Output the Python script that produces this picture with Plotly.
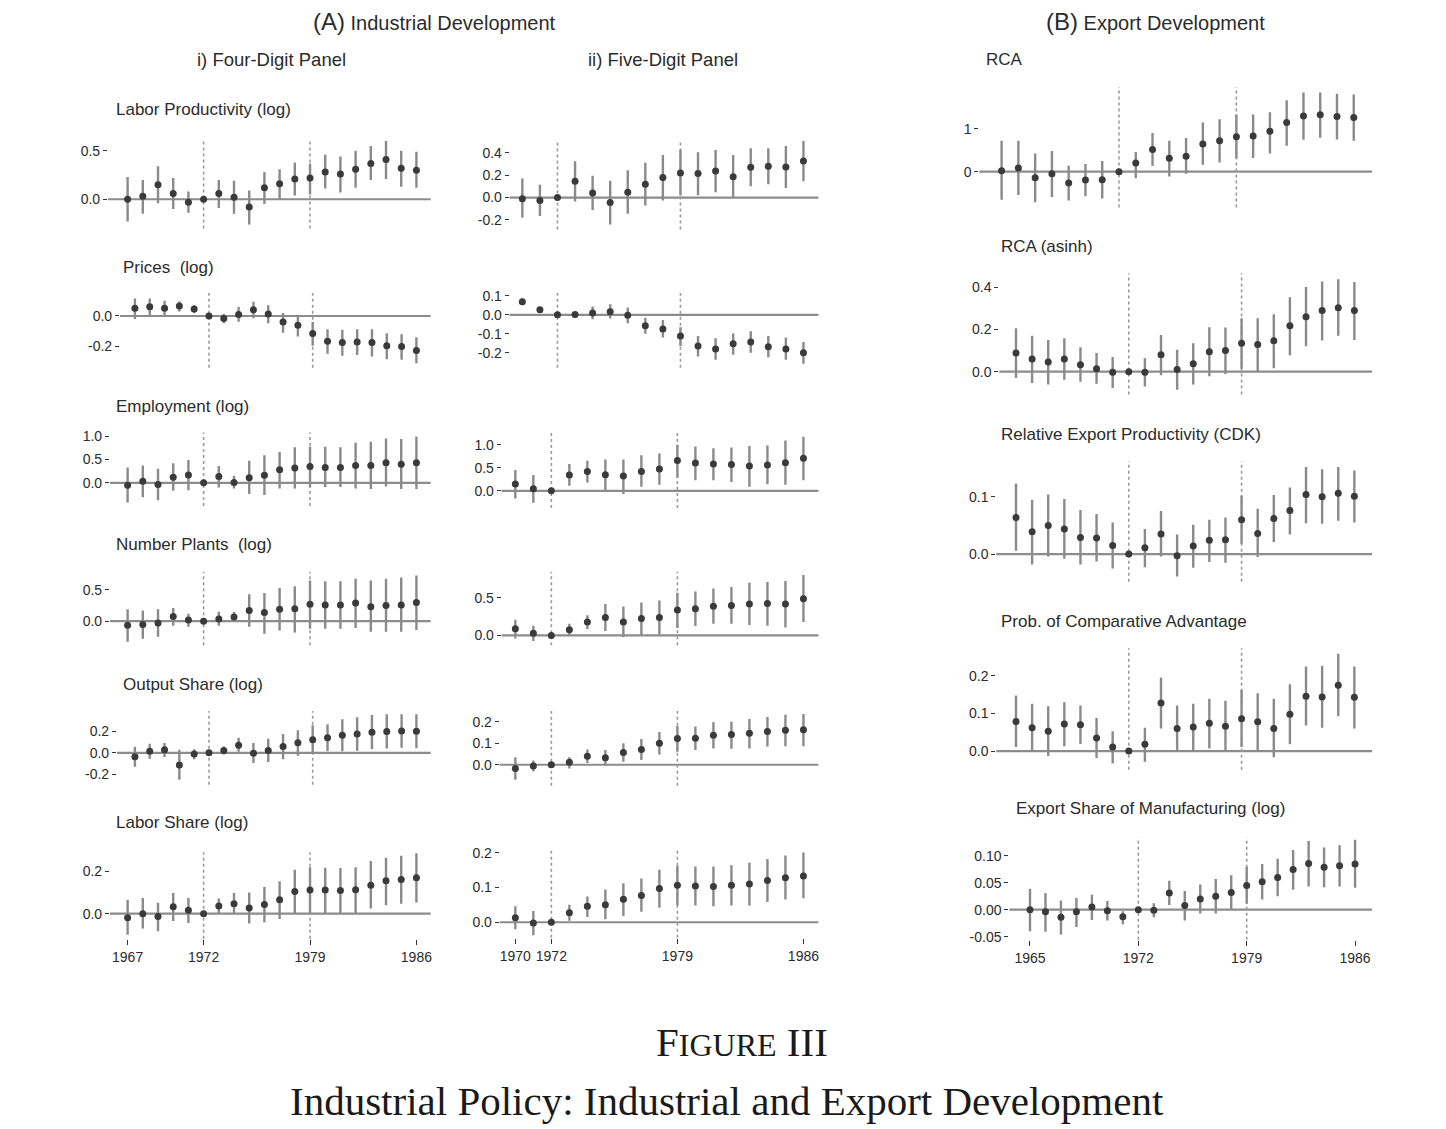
import plotly.graph_objects as go

W, H = 1446, 1129

# ---------------- data ----------------
years4 = [1967, 1968, 1969, 1970, 1971, 1972, 1973, 1974, 1975, 1976,
          1977, 1978, 1979, 1980, 1981, 1982, 1983, 1984, 1985, 1986]
years5 = [1970, 1971, 1972, 1973, 1974, 1975, 1976, 1977, 1978, 1979,
          1980, 1981, 1982, 1983, 1984, 1985, 1986]
yearsE = [1965, 1966, 1967, 1968, 1969, 1970, 1971, 1972, 1973, 1974, 1975,
          1976, 1977, 1978, 1979, 1980, 1981, 1982, 1983, 1984, 1985, 1986]

# Four-digit panel
lp4_est = [0.00, 0.03, 0.15, 0.06, -0.03, 0.00, 0.06, 0.02, -0.08, 0.12, 0.16, 0.21, 0.22, 0.28, 0.26, 0.31, 0.37, 0.41, 0.32, 0.30]
lp4_lo = [-0.23, -0.15, -0.04, -0.10, -0.14, 0.00, -0.09, -0.15, -0.26, -0.05, 0.00, 0.04, 0.05, 0.11, 0.07, 0.12, 0.20, 0.21, 0.13, 0.12]
lp4_hi = [0.23, 0.20, 0.34, 0.22, 0.08, 0.00, 0.20, 0.19, 0.09, 0.28, 0.31, 0.38, 0.37, 0.46, 0.44, 0.50, 0.55, 0.60, 0.50, 0.49]

pr4_est = [0.05, 0.06, 0.05, 0.065, 0.045, 0.0, -0.017, 0.01, 0.04, 0.013, -0.04, -0.06, -0.115, -0.165, -0.174, -0.17, -0.174, -0.195, -0.2, -0.226]
pr4_lo = [-0.02, 0.005, 0.005, 0.03, 0.02, 0.0, -0.048, -0.037, -0.015, -0.048, -0.11, -0.135, -0.195, -0.248, -0.26, -0.255, -0.265, -0.283, -0.287, -0.31]
pr4_hi = [0.115, 0.115, 0.10, 0.095, 0.07, 0.0, 0.013, 0.06, 0.093, 0.07, 0.02, 0.006, -0.04, -0.087, -0.09, -0.087, -0.087, -0.113, -0.12, -0.14]

em4_est = [-0.05, 0.035, -0.035, 0.12, 0.17, 0.0, 0.135, 0.007, 0.11, 0.16, 0.28, 0.32, 0.35, 0.33, 0.33, 0.37, 0.37, 0.43, 0.40, 0.43]
em4_lo = [-0.42, -0.31, -0.37, -0.17, -0.16, 0.0, -0.10, -0.12, -0.24, -0.26, -0.12, -0.12, -0.09, -0.09, -0.09, -0.12, -0.13, -0.08, -0.13, -0.13]
em4_hi = [0.33, 0.37, 0.30, 0.42, 0.49, 0.0, 0.36, 0.15, 0.47, 0.59, 0.66, 0.76, 0.77, 0.77, 0.76, 0.86, 0.88, 0.95, 0.94, 0.99]

np4_est = [-0.065, -0.055, -0.03, 0.075, 0.02, 0.0, 0.035, 0.065, 0.17, 0.14, 0.19, 0.20, 0.27, 0.26, 0.26, 0.29, 0.23, 0.25, 0.26, 0.30]
np4_lo = [-0.33, -0.28, -0.25, -0.075, -0.09, 0.0, -0.075, -0.01, -0.09, -0.20, -0.15, -0.18, -0.12, -0.12, -0.12, -0.11, -0.17, -0.17, -0.17, -0.14]
np4_hi = [0.19, 0.17, 0.19, 0.21, 0.12, 0.0, 0.15, 0.15, 0.43, 0.45, 0.53, 0.56, 0.65, 0.64, 0.64, 0.68, 0.65, 0.68, 0.70, 0.73]

os4_est = [-0.037, 0.015, 0.028, -0.114, -0.012, 0.0, 0.022, 0.07, -0.003, 0.022, 0.058, 0.092, 0.12, 0.14, 0.163, 0.175, 0.19, 0.197, 0.203, 0.20]
os4_lo = [-0.13, -0.055, -0.04, -0.25, -0.06, 0.0, -0.015, 0.01, -0.095, -0.085, -0.06, -0.028, -0.01, 0.015, 0.015, 0.018, 0.034, 0.04, 0.046, 0.043]
os4_hi = [0.055, 0.085, 0.09, 0.028, 0.034, 0.0, 0.058, 0.14, 0.09, 0.13, 0.175, 0.21, 0.255, 0.265, 0.31, 0.33, 0.35, 0.357, 0.357, 0.357]

ls4_est = [-0.019, 0.0, -0.013, 0.033, 0.016, 0.0, 0.036, 0.047, 0.027, 0.044, 0.066, 0.105, 0.112, 0.112, 0.11, 0.113, 0.135, 0.156, 0.162, 0.17]
ls4_lo = [-0.10, -0.07, -0.083, -0.035, -0.044, 0.0, 0.0, 0.0, -0.047, -0.04, -0.025, 0.0, 0.0, 0.003, 0.0, 0.003, 0.025, 0.04, 0.047, 0.053]
ls4_hi = [0.066, 0.075, 0.052, 0.098, 0.075, 0.0, 0.072, 0.098, 0.10, 0.126, 0.154, 0.208, 0.22, 0.218, 0.217, 0.22, 0.25, 0.265, 0.275, 0.287]

# Five-digit panel
lp5_est = [-0.01, -0.027, 0.0, 0.145, 0.04, -0.045, 0.048, 0.12, 0.18, 0.22, 0.215, 0.237, 0.187, 0.27, 0.28, 0.273, 0.326]
lp5_lo = [-0.18, -0.165, 0.0, -0.035, -0.11, -0.24, -0.145, -0.07, -0.027, 0.018, 0.02, 0.047, 0.0, 0.1, 0.12, 0.086, 0.145]
lp5_hi = [0.17, 0.115, 0.0, 0.325, 0.195, 0.15, 0.245, 0.31, 0.38, 0.43, 0.405, 0.425, 0.38, 0.44, 0.44, 0.46, 0.51]

pr5_est = [0.068, 0.026, 0.0, 0.002, 0.009, 0.016, -0.003, -0.058, -0.075, -0.112, -0.164, -0.18, -0.153, -0.143, -0.168, -0.18, -0.2]
pr5_lo = [0.05, 0.016, 0.0, -0.007, -0.024, -0.02, -0.045, -0.1, -0.12, -0.164, -0.22, -0.237, -0.21, -0.2, -0.223, -0.237, -0.258]
pr5_hi = [0.085, 0.037, 0.0, 0.007, 0.044, 0.056, 0.038, -0.016, -0.028, -0.065, -0.112, -0.124, -0.098, -0.087, -0.112, -0.12, -0.143]

em5_est = [0.145, 0.045, 0.0, 0.345, 0.42, 0.35, 0.32, 0.42, 0.475, 0.655, 0.6, 0.58, 0.57, 0.54, 0.56, 0.61, 0.705]
em5_lo = [-0.165, -0.26, 0.0, 0.11, 0.18, 0.015, -0.07, 0.09, 0.13, 0.29, 0.23, 0.23, 0.19, 0.09, 0.14, 0.13, 0.23]
em5_hi = [0.45, 0.345, 0.0, 0.58, 0.65, 0.68, 0.68, 0.77, 0.81, 1.0, 0.96, 0.92, 0.94, 0.97, 0.98, 1.09, 1.17]

np5_est = [0.088, 0.027, 0.0, 0.075, 0.18, 0.24, 0.18, 0.225, 0.24, 0.34, 0.355, 0.39, 0.4, 0.42, 0.425, 0.42, 0.49]
np5_lo = [-0.04, -0.075, 0.0, 0.0, 0.085, 0.057, -0.02, 0.004, 0.013, 0.1, 0.124, 0.155, 0.155, 0.137, 0.128, 0.106, 0.177]
np5_hi = [0.21, 0.13, 0.0, 0.155, 0.27, 0.42, 0.385, 0.44, 0.465, 0.57, 0.585, 0.625, 0.645, 0.7, 0.71, 0.725, 0.805]

os5_est = [-0.017, -0.006, 0.0, 0.011, 0.04, 0.032, 0.057, 0.071, 0.1, 0.122, 0.123, 0.137, 0.14, 0.146, 0.154, 0.16, 0.162]
os5_lo = [-0.07, -0.03, 0.0, -0.017, 0.008, -0.005, 0.014, 0.022, 0.048, 0.06, 0.068, 0.075, 0.074, 0.075, 0.085, 0.086, 0.086]
os5_hi = [0.035, 0.02, 0.0, 0.035, 0.071, 0.068, 0.1, 0.12, 0.152, 0.18, 0.177, 0.197, 0.2, 0.212, 0.222, 0.232, 0.235]

ls5_est = [0.013, -0.002, 0.0, 0.027, 0.046, 0.05, 0.066, 0.077, 0.097, 0.106, 0.104, 0.103, 0.106, 0.11, 0.12, 0.128, 0.133]
ls5_lo = [-0.02, -0.037, 0.0, 0.004, 0.015, 0.009, 0.018, 0.03, 0.042, 0.049, 0.048, 0.046, 0.048, 0.048, 0.058, 0.065, 0.069]
ls5_hi = [0.046, 0.032, 0.0, 0.05, 0.074, 0.094, 0.112, 0.126, 0.151, 0.162, 0.16, 0.16, 0.164, 0.171, 0.182, 0.192, 0.2]

# Export development
rca_est = [0.023, 0.085, -0.14, -0.046, -0.26, -0.19, -0.185, 0.0, 0.2, 0.515, 0.31, 0.36, 0.645, 0.72, 0.81, 0.83, 0.94, 1.14, 1.29, 1.32, 1.28, 1.26]
rca_lo = [-0.65, -0.54, -0.71, -0.59, -0.67, -0.57, -0.62, 0.0, -0.15, 0.13, -0.11, -0.05, 0.16, 0.215, 0.31, 0.32, 0.42, 0.6, 0.74, 0.79, 0.75, 0.72]
rca_hi = [0.72, 0.72, 0.42, 0.48, 0.14, 0.18, 0.25, 0.0, 0.46, 0.9, 0.72, 0.78, 1.14, 1.22, 1.33, 1.33, 1.38, 1.66, 1.84, 1.84, 1.81, 1.79]

asinh_est = [0.088, 0.06, 0.046, 0.06, 0.033, 0.014, -0.003, 0.0, -0.003, 0.08, 0.01, 0.038, 0.094, 0.1, 0.135, 0.129, 0.146, 0.217, 0.26, 0.29, 0.303, 0.29]
asinh_lo = [-0.03, -0.053, -0.06, -0.038, -0.047, -0.057, -0.077, 0.0, -0.07, -0.017, -0.085, -0.06, -0.022, -0.011, 0.014, 0.002, 0.016, 0.078, 0.12, 0.148, 0.17, 0.15]
asinh_hi = [0.205, 0.17, 0.15, 0.158, 0.116, 0.088, 0.07, 0.0, 0.064, 0.174, 0.104, 0.135, 0.21, 0.209, 0.253, 0.253, 0.272, 0.352, 0.4, 0.427, 0.437, 0.424]

cdk_est = [0.064, 0.039, 0.05, 0.044, 0.029, 0.028, 0.015, 0.0, 0.011, 0.035, -0.003, 0.014, 0.024, 0.025, 0.06, 0.036, 0.062, 0.076, 0.104, 0.1, 0.106, 0.101]
cdk_lo = [0.006, -0.018, -0.004, -0.008, -0.018, -0.013, -0.025, 0.0, -0.023, -0.004, -0.039, -0.024, -0.014, -0.015, 0.018, -0.005, 0.021, 0.034, 0.054, 0.053, 0.058, 0.055]
cdk_hi = [0.123, 0.095, 0.104, 0.096, 0.077, 0.07, 0.055, 0.0, 0.044, 0.075, 0.034, 0.051, 0.06, 0.064, 0.102, 0.079, 0.103, 0.116, 0.152, 0.148, 0.152, 0.146]

pca_est = [0.079, 0.062, 0.053, 0.072, 0.07, 0.035, 0.011, 0.0, 0.018, 0.128, 0.06, 0.064, 0.074, 0.066, 0.086, 0.078, 0.06, 0.098, 0.146, 0.144, 0.175, 0.143]
pca_lo = [0.011, 0.0, -0.013, 0.013, 0.019, -0.018, -0.033, 0.0, -0.028, 0.06, 0.0, 0.003, 0.007, 0.0, 0.011, 0.0, -0.016, 0.018, 0.068, 0.062, 0.093, 0.06]
pca_hi = [0.148, 0.126, 0.119, 0.13, 0.121, 0.088, 0.053, 0.0, 0.062, 0.196, 0.121, 0.126, 0.139, 0.134, 0.163, 0.154, 0.139, 0.178, 0.225, 0.227, 0.259, 0.225]

es_est = [0.0, -0.004, -0.014, -0.004, 0.005, -0.002, -0.013, 0.0, -0.001, 0.031, 0.008, 0.02, 0.025, 0.032, 0.045, 0.052, 0.06, 0.075, 0.086, 0.079, 0.082, 0.085]
es_lo = [-0.04, -0.041, -0.046, -0.032, -0.019, -0.02, -0.027, 0.0, -0.014, 0.009, -0.02, -0.007, -0.007, 0.0, 0.011, 0.019, 0.025, 0.037, 0.043, 0.042, 0.043, 0.041]
es_hi = [0.039, 0.031, 0.017, 0.022, 0.028, 0.016, -0.003, 0.0, 0.012, 0.054, 0.035, 0.047, 0.057, 0.064, 0.08, 0.085, 0.095, 0.111, 0.128, 0.116, 0.12, 0.13]

xt4 = [1967, 1972, 1979, 1986]
xt5 = [1970, 1972, 1979, 1986]
xtE = [1965, 1972, 1979, 1986]
policy_years = [1972, 1979]

# ---------------- layout of panels (pixel geometry) ----------------
# box = (x0, x1, y0, y1) pixels; xcal/ycal = (pixel, value, pixel, value)
panels = [
    dict(t="Labor Productivity (log)", tp=(114, 108.5), yrs=years4, e=lp4_est, lo=lp4_lo, hi=lp4_hi,
         box=(108, 431, 140, 228), xcal=(127.7, 1967, 416.7, 1986), ycal=(150, 0.5, 198.7, 0.0),
         yt=[0.0, 0.5], ytt=["0.0", "0.5"], xt=None),
    dict(t="Prices  (log)", tp=(121, 267), yrs=years4, e=pr4_est, lo=pr4_lo, hi=pr4_hi,
         box=(120, 431, 293, 368), xcal=(135, 1967, 416.7, 1986), ycal=(316, 0.0, 346.7, -0.2),
         yt=[-0.2, 0.0], ytt=["-0.2", "0.0"], xt=None),
    dict(t="Employment (log)", tp=(114, 406.5), yrs=years4, e=em4_est, lo=em4_lo, hi=em4_hi,
         box=(110, 431, 433, 507), xcal=(127.7, 1967, 416.7, 1986), ycal=(436.7, 1.0, 483.7, 0.0),
         yt=[0.0, 0.5, 1.0], ytt=["0.0", "0.5", "1.0"], xt=None),
    dict(t="Number Plants  (log)", tp=(114, 546), yrs=years4, e=np4_est, lo=np4_lo, hi=np4_hi,
         box=(110, 431, 573, 647), xcal=(127.7, 1967, 416.7, 1986), ycal=(591.3, 0.5, 622.7, 0.0),
         yt=[0.0, 0.5], ytt=["0.0", "0.5"], xt=None),
    dict(t="Output Share (log)", tp=(121, 686), yrs=years4, e=os4_est, lo=os4_lo, hi=os4_hi,
         box=(117, 431, 713, 787), xcal=(135, 1967, 416.7, 1986), ycal=(733.3, 0.2, 776.7, -0.2),
         yt=[-0.2, 0.0, 0.2], ytt=["-0.2", "0.0", "0.2"], xt=None),
    dict(t="Labor Share (log)", tp=(114, 825), yrs=years4, e=ls4_est, lo=ls4_lo, hi=ls4_hi,
         box=(110, 431, 855, 942), xcal=(127.7, 1967, 416.7, 1986), ycal=(874.3, 0.2, 916.7, 0.0),
         yt=[0.0, 0.2], ytt=["0.0", "0.2"], xt=xt4),

    dict(t=None, yrs=years5, e=lp5_est, lo=lp5_lo, hi=lp5_hi,
         box=(510, 819, 140, 229), xcal=(522.7, 1970, 804, 1986), ycal=(152, 0.4, 197, 0.0),
         yt=[-0.2, 0.0, 0.2, 0.4], ytt=["-0.2", "0.0", "0.2", "0.4"], xt=None),
    dict(t=None, yrs=years5, e=pr5_est, lo=pr5_lo, hi=pr5_hi,
         box=(510, 819, 293, 368), xcal=(522.7, 1970, 804, 1986), ycal=(295.7, 0.1, 353, -0.2),
         yt=[-0.2, -0.1, 0.0, 0.1], ytt=["-0.2", "-0.1", "0.0", "0.1"], xt=None),
    dict(t=None, yrs=years5, e=em5_est, lo=em5_lo, hi=em5_hi,
         box=(502, 819, 433, 509), xcal=(515.7, 1970, 804, 1986), ycal=(445.3, 1.0, 491.7, 0.0),
         yt=[0.0, 0.5, 1.0], ytt=["0.0", "0.5", "1.0"], xt=None),
    dict(t=None, yrs=years5, e=np5_est, lo=np5_lo, hi=np5_hi,
         box=(502, 819, 573, 647), xcal=(515.7, 1970, 804, 1986), ycal=(599.3, 0.5, 637, 0.0),
         yt=[0.0, 0.5], ytt=["0.0", "0.5"], xt=None),
    dict(t=None, yrs=years5, e=os5_est, lo=os5_lo, hi=os5_hi,
         box=(500, 819, 713, 788), xcal=(515.7, 1970, 804, 1986), ycal=(723.7, 0.2, 767, 0.0),
         yt=[0.0, 0.1, 0.2], ytt=["0.0", "0.1", "0.2"], xt=None),
    dict(t=None, yrs=years5, e=ls5_est, lo=ls5_lo, hi=ls5_hi,
         box=(500, 819, 853, 941), xcal=(515.7, 1970, 804, 1986), ycal=(855.3, 0.2, 925.3, 0.0),
         yt=[0.0, 0.1, 0.2], ytt=["0.0", "0.1", "0.2"], xt=xt5),

    dict(t="RCA", tp=(985, 58.5), yrs=yearsE, e=rca_est, lo=rca_lo, hi=rca_hi,
         box=(980, 1373, 86, 207), xcal=(1002.3, 1965, 1354.7, 1986), ycal=(127.7, 1.0, 171, 0.0),
         yt=[0, 1], ytt=["0", "1"], xt=None),
    dict(t="RCA (asinh)", tp=(1000, 246.5), yrs=yearsE, e=asinh_est, lo=asinh_lo, hi=asinh_hi,
         box=(1000, 1373, 273, 395), xcal=(1016.7, 1965, 1355.3, 1986), ycal=(287, 0.4, 372, 0.0),
         yt=[0.0, 0.2, 0.4], ytt=["0.0", "0.2", "0.4"], xt=None),
    dict(t="Relative Export Productivity (CDK)", tp=(1000, 435), yrs=yearsE, e=cdk_est, lo=cdk_lo, hi=cdk_hi,
         box=(997, 1373, 462, 583), xcal=(1016.7, 1965, 1355.3, 1986), ycal=(497.7, 0.1, 555.3, 0.0),
         yt=[0.0, 0.1], ytt=["0.0", "0.1"], xt=None),
    dict(t="Prob. of Comparative Advantage", tp=(1000, 623), yrs=yearsE, e=pca_est, lo=pca_lo, hi=pca_hi,
         box=(997, 1373, 650, 772), xcal=(1016.7, 1965, 1355.3, 1986), ycal=(677.7, 0.2, 753.3, 0.0),
         yt=[0.0, 0.1, 0.2], ytt=["0.0", "0.1", "0.2"], xt=None),
    dict(t="Export Share of Manufacturing (log)", tp=(1015, 811), yrs=yearsE, e=es_est, lo=es_lo, hi=es_hi,
         box=(1010, 1373, 840, 943), xcal=(1030.7, 1965, 1356, 1986), ycal=(858.7, 0.1, 912.7, 0.0),
         yt=[-0.05, 0.0, 0.05, 0.10], ytt=["-0.05", "0.00", "0.05", "0.10"], xt=xtE),
]

FONT = "Liberation Sans, Arial, sans-serif"
TXT = "#2b2b2b"
PT = "#3a3a3a"
BAR = "#8a8a8a"
HLINE = "#8c8c8c"


def fy(y):
    # small vertical correction of the rendered page (upper part sits a few px low)
    return y - max(0.0, 4.5 * (1 - y / 930.0))


fig = go.Figure()
layout = dict(width=W, height=H, margin=dict(l=0, r=0, t=0, b=0),
              paper_bgcolor="white", plot_bgcolor="white", showlegend=False,
              font=dict(family=FONT, color=TXT))
shapes = []
annotations = []


def cal_range(p0, p1, cal):
    pa, va, pb, vb = cal
    s = (vb - va) / (pb - pa)
    return va + (p0 - pa) * s, va + (p1 - pa) * s


for i, p in enumerate(panels, start=1):
    sfx = "" if i == 1 else str(i)
    x0, x1, y0, y1 = p["box"]
    y0c, y1c = fy(y0), fy(y1)
    pa, va, pb, vb = p["ycal"]
    ycal = (fy(pa), va, fy(pb), vb)
    xmin, xmax = cal_range(x0, x1, p["xcal"])
    ytop, ybot = cal_range(y0c, y1c, ycal)
    e, lo, hi = p["e"], p["lo"], p["hi"]
    fig.add_trace(go.Scatter(
        x=p["yrs"], y=e, mode="markers",
        marker=dict(size=7, color=PT),
        error_y=dict(type="data", symmetric=False,
                     array=[h - v for h, v in zip(hi, e)],
                     arrayminus=[v - l for v, l in zip(e, lo)],
                     width=0, thickness=2.4, color=BAR),
        xaxis="x" + sfx, yaxis="y" + sfx, hoverinfo="x+y"))
    xa = dict(domain=[x0 / W, x1 / W], range=[xmin, xmax], anchor="y" + sfx,
              showgrid=False, zeroline=False, showline=False, fixedrange=True)
    if p["xt"] is not None:
        xa.update(tickvals=p["xt"], ticktext=[str(v) for v in p["xt"]], ticks="outside",
                  ticklen=5, tickwidth=1.2, tickcolor="#333", showticklabels=True,
                  tickfont=dict(size=14, color=TXT, family=FONT))
    else:
        xa.update(showticklabels=False, ticks="")
    ya = dict(domain=[1 - y1c / H, 1 - y0c / H], range=[ybot, ytop], anchor="x" + sfx,
              showgrid=False, zeroline=False, showline=False, fixedrange=True,
              tickvals=p["yt"], ticktext=p["ytt"], ticks="outside", ticklen=4,
              tickwidth=1.2, tickcolor="#333",
              tickfont=dict(size=14, color=TXT, family=FONT))
    layout["xaxis" + sfx] = xa
    layout["yaxis" + sfx] = ya
    xr = "x" + sfx
    yr = "y" + sfx
    shapes.append(dict(type="line", xref=xr + " domain", yref=yr, x0=0, x1=1, y0=0, y1=0,
                       line=dict(color=HLINE, width=2.2), layer="below"))
    for py in policy_years:
        shapes.append(dict(type="line", xref=xr, yref=yr + " domain", x0=py, x1=py, y0=0, y1=1,
                           line=dict(color="#9a9a9a", width=1.6, dash="dot"), layer="below"))
    if p["t"]:
        tx, ty = p["tp"]
        annotations.append(dict(text=p["t"], x=tx / W, y=1 - fy(ty) / H, xref="paper", yref="paper",
                                xanchor="left", yanchor="middle", showarrow=False,
                                font=dict(size=17, color=TXT, family=FONT)))

headers = [
    ("<span style='font-size:24px'>(A)</span> Industrial Development", 435, 20, 20),
    ("<span style='font-size:24px'>(B)</span> Export Development", 1156, 20, 20),
    ("i) Four-Digit Panel", 272, 58.5, 18.5),
    ("ii) Five-Digit Panel", 663, 58.5, 18.5),
]
for txt, hx, hy, fs in headers:
    annotations.append(dict(text=txt, x=hx / W, y=1 - fy(hy) / H, xref="paper", yref="paper",
                            xanchor="center", yanchor="middle", showarrow=False,
                            font=dict(size=fs, color=TXT, family=FONT)))

SERIF = "Liberation Serif, Times New Roman, serif"
annotations.append(dict(text="F<span style='font-size:32px'>IGURE</span> III",
                        x=743 / W, y=1 - 1046 / H, xref="paper", yref="paper",
                        xanchor="center", yanchor="middle", showarrow=False,
                        font=dict(size=41, color="#1a1a1a", family=SERIF)))
annotations.append(dict(text="Industrial Policy: Industrial and Export Development",
                        x=728 / W, y=1 - 1106 / H, xref="paper", yref="paper",
                        xanchor="center", yanchor="middle", showarrow=False,
                        font=dict(size=41, color="#1a1a1a", family=SERIF)))

layout["shapes"] = shapes
layout["annotations"] = annotations
fig.update_layout(**layout)

fig.write_html("out.html", config={"displayModeBar": False},
               post_script="document.body.style.margin='0';document.body.style.overflow='hidden';")
